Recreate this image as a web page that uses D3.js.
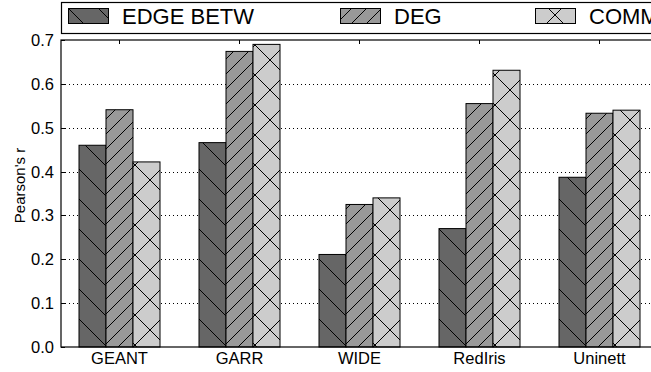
<!DOCTYPE html>
<html>
<head>
<meta charset="utf-8">
<script src="https://cdn.jsdelivr.net/npm/d3@7"></script>
<style>
  html, body { margin: 0; padding: 0; background: #fff; }
  svg { display: block; font-family: "Liberation Sans", Arial, sans-serif; }
</style>
</head>
<body>
<svg id="chart" width="651" height="372"></svg>
<script>
// ─── Data ─────────────────────────────────────────────────────────────────
const networks = ["GEANT", "GARR", "WIDE", "RedIris", "Uninett"];
const seriesNames = ["EDGE BETW", "DEG", "COMM"];
const edgeBetw = [0.46, 0.466, 0.211, 0.27, 0.387];
const deg      = [0.541, 0.674, 0.325, 0.555, 0.533];
const comm     = [0.422, 0.69, 0.34, 0.631, 0.54];
const yTicks   = [0.0, 0.1, 0.2, 0.3, 0.4, 0.5, 0.6, 0.7];

const series = [edgeBetw, deg, comm];
const FILLS = ["#666666", "#999999", "#cccccc"];
const PATTERNS = ["hatchBack", "hatchFwd", "hatchCross"];

// ─── Layout ───────────────────────────────────────────────────────────────
const W = 651, H = 372;
const plot = { left: 61, top: 40, right: 661, bottom: 347 };
const BAR_W = 0.225;   // in group units
const OFFSET = 0.15;
const TICK_FONT = 16.5;

const x = d3.scaleLinear().domain([0, networks.length]).range([plot.left, plot.right]);
const y = d3.scaleLinear().domain([0, 0.7]).range([plot.bottom, plot.top]);

const svg = d3.select("#chart");

// ── Hatch patterns ────────────────────────────────────────────────────────
const defs = svg.append("defs");
function pattern(id, size, fill, paths) {
  const p = defs.append("pattern").attr("id", id)
    .attr("patternUnits", "userSpaceOnUse")
    .attr("width", size).attr("height", size);
  p.append("rect").attr("width", size).attr("height", size).attr("fill", fill);
  paths.forEach(d => p.append("path").attr("d", d)
    .attr("stroke", "#000").attr("stroke-width", 1).attr("fill", "none"));
}
pattern("hatchBack", 30, FILLS[0], ["M-3,-3 L33,33", "M27,-3 L33,3", "M-3,27 L3,33"]);
pattern("hatchFwd", 15, FILLS[1], ["M-2,17 L17,-2", "M-2,2 L2,-2", "M13,17 L17,13"]);
pattern("hatchCross", 30, FILLS[2], ["M-3,-3 L33,33", "M-3,33 L33,-3"]);

// ── Grid ──────────────────────────────────────────────────────────────────
svg.append("g").selectAll("line")
  .data(yTicks.filter(t => t > 0 && t < 0.7)).join("line")
  .attr("x1", plot.left).attr("x2", plot.right)
  .attr("y1", d => Math.round(y(d)) + 0.5).attr("y2", d => Math.round(y(d)) + 0.5)
  .attr("stroke", "#000").attr("stroke-width", 1).attr("stroke-dasharray", "1,3");

// ── Bars ──────────────────────────────────────────────────────────────────
series.forEach((vals, j) => {
  svg.append("g").selectAll("rect")
    .data(vals).join("rect")
    .attr("x", (d, i) => x(i + OFFSET + j * BAR_W))
    .attr("width", x(BAR_W) - x(0))
    .attr("y", d => y(d))
    .attr("height", d => y(0) - y(d))
    .attr("fill", `url(#${PATTERNS[j]})`)
    .attr("stroke", "#000").attr("stroke-width", 1);
});

// ── Axes frame & ticks ────────────────────────────────────────────────────
svg.append("rect")
  .attr("x", plot.left).attr("y", plot.top)
  .attr("width", plot.right - plot.left).attr("height", plot.bottom - plot.top)
  .attr("fill", "none").attr("stroke", "#000").attr("stroke-width", 1.2);

const centers = networks.map((n, i) => i + OFFSET + 1.5 * BAR_W);

svg.append("g").selectAll("line")
  .data(yTicks).join("line")
  .attr("x1", plot.left).attr("x2", plot.left + 4)
  .attr("y1", d => Math.round(y(d)) + 0.5).attr("y2", d => Math.round(y(d)) + 0.5)
  .attr("stroke", "#000");

svg.append("g").selectAll("line")
  .data(centers).join("line")
  .attr("x1", d => x(d)).attr("x2", d => x(d))
  .attr("y1", plot.top).attr("y2", plot.top + 4)
  .attr("stroke", "#000");

svg.append("g").selectAll("text")
  .data(yTicks).join("text")
  .attr("x", plot.left - 7).attr("y", d => y(d) + 6)
  .attr("text-anchor", "end").attr("font-size", TICK_FONT).attr("fill", "#000")
  .text(d => d.toFixed(1));

svg.append("g").selectAll("text")
  .data(networks).join("text")
  .attr("x", (d, i) => x(centers[i])).attr("y", plot.bottom + 17)
  .attr("text-anchor", "middle").attr("font-size", TICK_FONT).attr("fill", "#000")
  .text(d => d);

svg.append("text")
  .attr("transform", `translate(25,${(plot.top + plot.bottom) / 2 - 8}) rotate(-90)`)
  .attr("text-anchor", "middle").attr("font-size", 15).attr("fill", "#000")
  .text("Pearson's r");

// ── Legend ────────────────────────────────────────────────────────────────
const legend = svg.append("g");
legend.append("rect")
  .attr("x", 61.5).attr("y", 2.5).attr("width", 640).attr("height", 31)
  .attr("fill", "#fff").attr("stroke", "#000").attr("stroke-width", 1.2);
const legendX = [68, 340, 535];
seriesNames.forEach((name, j) => {
  legend.append("rect")
    .attr("x", legendX[j] + 0.5).attr("y", 8.5).attr("width", 40).attr("height", 15)
    .attr("fill", `url(#${PATTERNS[j]})`).attr("stroke", "#000");
  legend.append("text")
    .attr("x", legendX[j] + 54).attr("y", 24)
    .attr("font-size", 22).attr("fill", "#000")
    .text(name);
});
</script>
</body>
</html>
